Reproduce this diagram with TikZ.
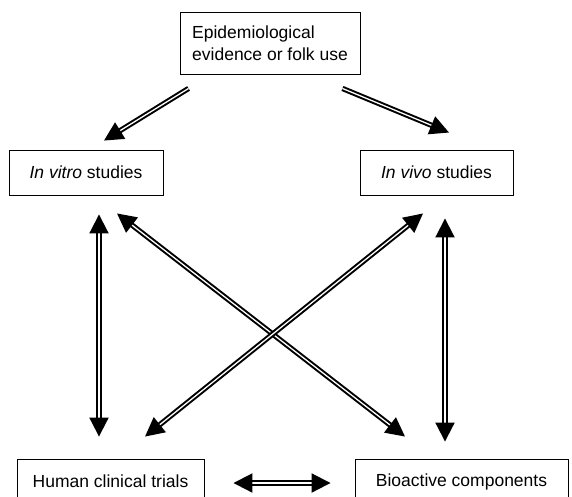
\documentclass[tikz,border=0pt]{standalone}
\usepackage{fontspec}
\setmainfont{Liberation Sans}
\usetikzlibrary{arrows.meta}
\begin{document}
\begin{tikzpicture}[x=1pt, y=-1pt, font=\fontsize{17.5}{22}\selectfont, line join=miter,
  >={Triangle[length=19pt,width=19pt]},
  box/.style={draw, line width=0.9pt, minimum height=45pt, inner sep=0pt},
  dbl/.style={double, double distance=1.3pt, line width=2pt}]
\useasboundingbox (0,0) rectangle (572,496);
\clip (0,0) rectangle (572,496);
% boxes
\node[box, minimum width=180pt, minimum height=62pt, align=left] (epi) at (270,43) {Epidemiological\\evidence or folk use};
\node[box, minimum width=154pt] (vitro) at (86,172.5) {\textit{In vitro} studies};
\node[box, minimum width=153pt] (vivo) at (436.5,172.5) {\textit{In vivo} studies};
\node[box, minimum width=187pt] (human) at (110.5,481.5) {Human clinical trials};
\node[box, minimum width=213pt] (bio) at (461.5,481.5) {Bioactive components};
% arrows
\draw[dbl,->] ([shift={(9,14)}]epi.south west) -- ([shift={(18,-9)}]vitro.north);
\draw[dbl,->] ([shift={(-18,14)}]epi.south east) -- ([shift={(12.5,-17)}]vivo.north);
\draw[dbl,<->] ([shift={(13,19)}]vitro.south) -- ([shift={(-11.5,-22)}]human.north);
\draw[dbl,<->] ([shift={(8.5,23)}]vivo.south) -- ([shift={(-16.5,-17)}]bio.north);
\draw[dbl,<->] ([shift={(31,18)}]vitro.south) -- ([shift={(-56.5,-22)}]bio.north);
\draw[dbl,<->] ([shift={(-13.5,18)}]vivo.south) -- ([shift={(34.5,-22)}]human.north);
\draw[dbl,<->] ([shift={(29,1.5)}]human.east) -- ([shift={(-24,1.5)}]bio.west);
\end{tikzpicture}
\end{document}
